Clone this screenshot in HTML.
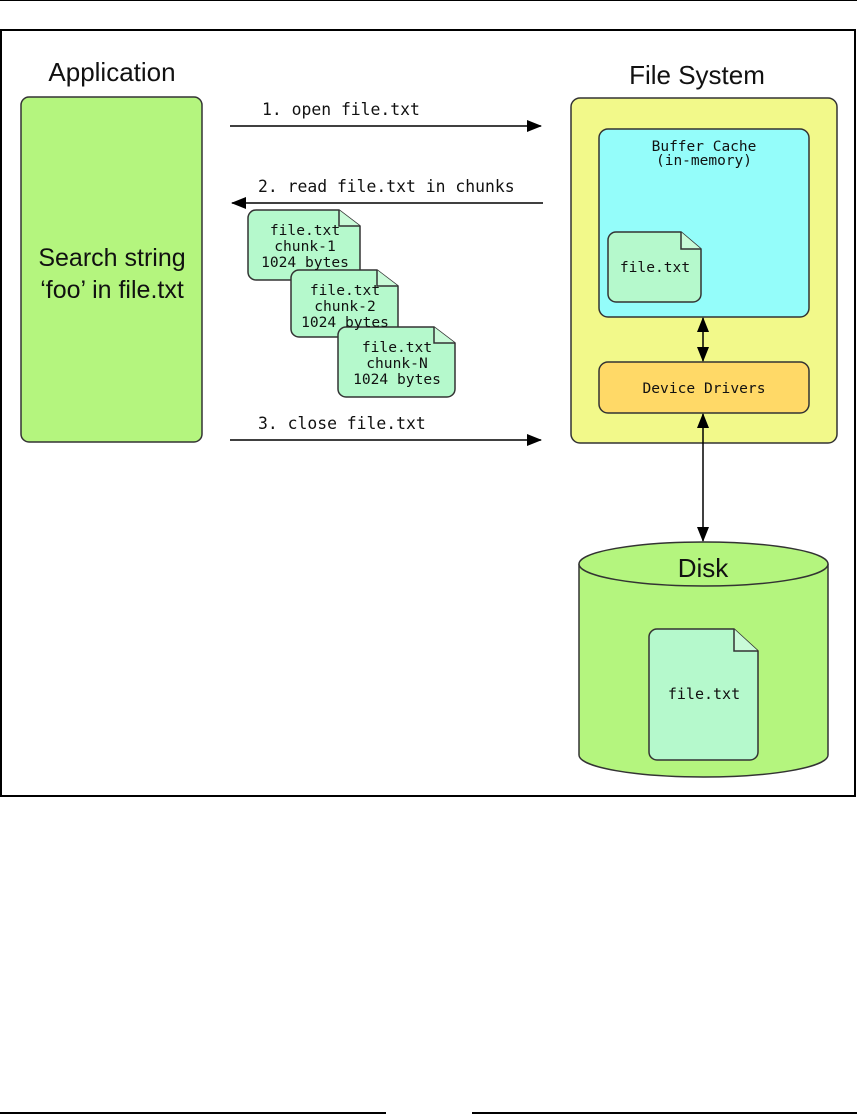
<!DOCTYPE html>
<html><head><meta charset="utf-8"><style>
html,body{margin:0;padding:0;background:#fff;width:857px;height:1114px;overflow:hidden}
</style></head><body>
<svg width="857" height="1114" viewBox="0 0 857 1114" xmlns="http://www.w3.org/2000/svg">
<defs>
<marker id="ah" markerWidth="15" markerHeight="12" refX="14" refY="6" orient="auto" markerUnits="userSpaceOnUse"><path d="M0,0 L15,6 L0,12 z" fill="#000"/></marker>
<marker id="as" markerWidth="15" markerHeight="12" refX="1" refY="6" orient="auto" markerUnits="userSpaceOnUse"><path d="M15,0 L0,6 L15,12 z" fill="#000"/></marker>
</defs>
<line x1="0" y1="0.5" x2="857" y2="0.5" stroke="#000" stroke-width="1"/>
<rect x="1" y="30" width="854" height="766" fill="#fff" stroke="#000" stroke-width="2"/>
<line x1="0" y1="1113" x2="386" y2="1113" stroke="#000" stroke-width="2"/>
<line x1="472" y1="1113" x2="857" y2="1113" stroke="#000" stroke-width="2"/>

<g font-family="Liberation Sans, sans-serif" fill="#111">
<text x="112" y="81" font-size="26" text-anchor="middle">Application</text>
<text x="697" y="84" font-size="26" text-anchor="middle">File System</text>
</g>
<rect x="21" y="97" width="181" height="345" rx="8" fill="#b4f57e" stroke="#333" stroke-width="1.5"/>
<text x="112" y="266" font-family="Liberation Sans, sans-serif" font-size="25" text-anchor="middle" fill="#111">Search string</text>
<text x="112" y="298" font-family="Liberation Sans, sans-serif" font-size="25" text-anchor="middle" fill="#111">‘foo’ in file.txt</text>

<g font-family="DejaVu Sans Mono, Liberation Mono, monospace" font-size="16.4" fill="#111">
<text x="262" y="115">1. open file.txt</text>
<text x="258" y="192">2. read file.txt in chunks</text>
<text x="258" y="429">3. close file.txt</text>
</g>
<line x1="230" y1="126" x2="541" y2="126" stroke="#000" stroke-width="1.5" marker-end="url(#ah)"/>
<line x1="543" y1="203" x2="232" y2="203" stroke="#000" stroke-width="1.5" marker-end="url(#ah)"/>
<line x1="230" y1="440" x2="541" y2="440" stroke="#000" stroke-width="1.5" marker-end="url(#ah)"/>

<g stroke="#333" stroke-width="1.5" fill="#b5f9cc">
<path d="M256,210 H339 L360,226 V272 a8,8 0 0 1 -8,8 H256 a8,8 0 0 1 -8,-8 V218 a8,8 0 0 1 8,-8z"/>
<path d="M339,210 V226 H360" fill="#c9fbd8"/>
<path d="M299,270 H377 L398,286 V329 a8,8 0 0 1 -8,8 H299 a8,8 0 0 1 -8,-8 V278 a8,8 0 0 1 8,-8z"/>
<path d="M377,270 V286 H398" fill="#c9fbd8"/>
<path d="M346,327 H434 L455,343 V389 a8,8 0 0 1 -8,8 H346 a8,8 0 0 1 -8,-8 V335 a8,8 0 0 1 8,-8z"/>
<path d="M434,327 V343 H455" fill="#c9fbd8"/>
</g>
<g font-family="DejaVu Sans Mono, Liberation Mono, monospace" font-size="14.6" fill="#111" text-anchor="middle">
<text x="305" y="235">file.txt</text><text x="305" y="251">chunk-1</text><text x="305" y="267">1024 bytes</text>
<text x="345" y="295">file.txt</text><text x="345" y="311">chunk-2</text><text x="345" y="327">1024 bytes</text>
<text x="397" y="352">file.txt</text><text x="397" y="368">chunk-N</text><text x="397" y="384">1024 bytes</text>
</g>

<rect x="571" y="98" width="266" height="345" rx="9" fill="#f2f98a" stroke="#333" stroke-width="1.5"/>
<rect x="599" y="129" width="210" height="188" rx="9" fill="#94fdfa" stroke="#333" stroke-width="1.5"/>
<g font-family="DejaVu Sans Mono, Liberation Mono, monospace" font-size="14.5" fill="#111" text-anchor="middle">
<text x="704" y="151">Buffer Cache</text><text x="704" y="165">(in-memory)</text>
</g>
<path d="M616,232 H681 L701,249 V294 a8,8 0 0 1 -8,8 H616 a8,8 0 0 1 -8,-8 V240 a8,8 0 0 1 8,-8z" fill="#b5f9cc" stroke="#333" stroke-width="1.5"/>
<path d="M681,232 V249 H701" fill="#c9fbd8" stroke="#333" stroke-width="1.5"/>
<text x="655" y="272" font-family="DejaVu Sans Mono, Liberation Mono, monospace" font-size="14.6" text-anchor="middle" fill="#111">file.txt</text>

<rect x="599" y="362" width="210" height="51" rx="9" fill="#ffd967" stroke="#333" stroke-width="1.5"/>
<text x="704" y="393" font-family="DejaVu Sans Mono, Liberation Mono, monospace" font-size="14.6" text-anchor="middle" fill="#111">Device Drivers</text>

<line x1="703" y1="318" x2="703" y2="361" stroke="#000" stroke-width="1.5" marker-start="url(#as)" marker-end="url(#ah)"/>
<line x1="703" y1="414" x2="703" y2="541" stroke="#000" stroke-width="1.5" marker-start="url(#as)" marker-end="url(#ah)"/>

<path d="M579,564 V755 A124.5,22 0 0 0 828,755 V564" fill="#b4f57e" stroke="#333" stroke-width="1.5"/>
<ellipse cx="703.5" cy="564" rx="124.5" ry="22" fill="#b4f57e" stroke="#333" stroke-width="1.5"/>
<text x="703" y="577" font-family="Liberation Sans, sans-serif" font-size="26" text-anchor="middle" fill="#111">Disk</text>
<path d="M657,629 H734 L758,651 V752 a8,8 0 0 1 -8,8 H657 a8,8 0 0 1 -8,-8 V637 a8,8 0 0 1 8,-8z" fill="#b5f9cc" stroke="#333" stroke-width="1.5"/>
<path d="M734,629 V651 H758" fill="#c9fbd8" stroke="#333" stroke-width="1.5"/>
<text x="704" y="699" font-family="DejaVu Sans Mono, Liberation Mono, monospace" font-size="15" text-anchor="middle" fill="#111">file.txt</text>
</svg>
</body></html>
